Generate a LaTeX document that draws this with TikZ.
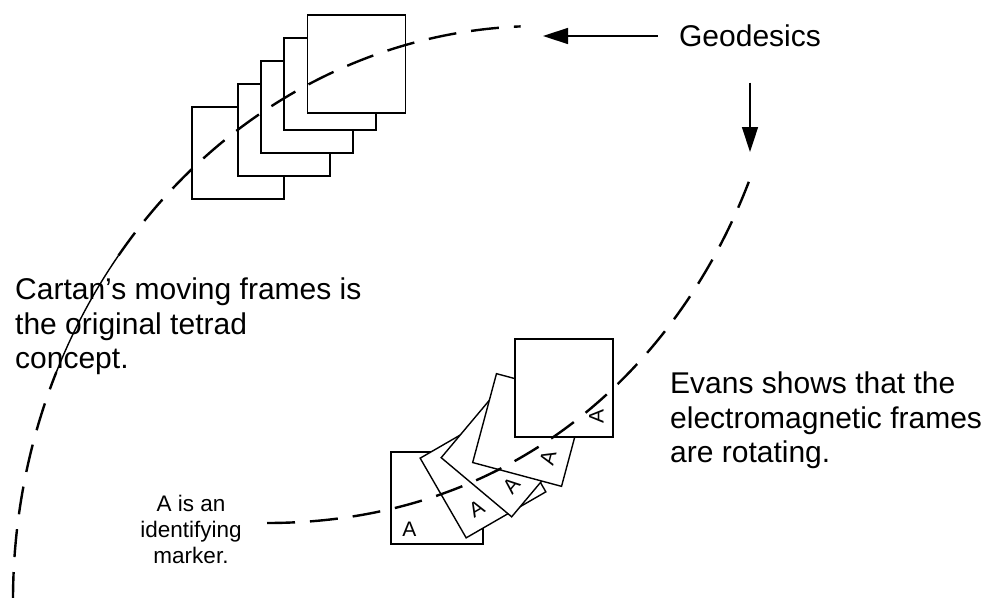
\documentclass[tikz,border=0pt]{standalone}
\usepackage{fontspec}
\setmainfont{Liberation Sans}
\usetikzlibrary{arrows.meta,calc}
\tikzset{
  tetradbox/.style={
    draw=black,
    fill=white,
    line width=1.4pt,
    minimum size=92pt,
    inner sep=0pt
  },
  geodesic/.style={line width=2.4pt, dash pattern=on 28pt off 15pt},
  geosolid/.style={line width=1.4pt},
  geoarrow/.style={-{Triangle[length=25pt, width=16pt]}, line width=1.5pt},
  bignote/.style={font=\fontsize{30}{34.5}\selectfont, align=left, inner sep=0pt},
  smallnote/.style={font=\fontsize{22.5}{26}\selectfont, align=center, inner sep=0pt},
  marktext/.style={font=\fontsize{21}{24}\selectfont, inner sep=0pt}
}

\begin{document}
\begin{tikzpicture}[x=1pt, y=-1pt]
    \useasboundingbox (0,0) rectangle (992,597);

    \foreach \cx/\cy/\sz [count=\i] in {238/153/92, 284/130/92, 307/107/92, 330/84/92, 356.5/64/98}
      \node[tetradbox, minimum size=\sz] (top\i) at (\cx,\cy) {};

    \foreach \cx/\cy/\ang/\dist/\sz [count=\i] in {437/498/0/42/92, 483/475/30/34/92, 506/452/50/34/92, 529/430/75/34/92, 564/388/90/43/98} {
      \node[tetradbox, minimum size=\sz, rotate=\ang] (rot\i) at (\cx,\cy) {};
      \node[marktext, rotate=\ang] (mark\i) at ($(rot\i.center)+({-229-\ang}:\dist)$) {A};
    }

    \draw[geodesic] (13,600) arc[start angle=180, end angle=203.4, x radius=527, y radius=574] coordinate (outerA);
    \draw[geosolid] (outerA) arc[start angle=203.4, end angle=216.9, x radius=527, y radius=574] coordinate (outerB);
    \draw[geodesic] (outerB) arc[start angle=216.9, end angle=267.9, x radius=527, y radius=574] coordinate (outerEnd);

    \draw[geodesic] (267,523) .. controls (517,523) and (681,364) .. (751,176);

    \node[bignote] (geo) at (750,36) {Geodesics};
    \coordinate (leftTip) at (543,36);
    \coordinate (downTip) at (750,152);

    \draw[geoarrow, shorten <=21pt] (geo) -- (leftTip);
    \draw[geoarrow, shorten <=35.5pt] (geo) -- (downTip);

    \node[bignote, anchor=north west] (cartan) at (15,278) {Cartan’s moving frames is\\the original tetrad\\concept.};
    \node[bignote, anchor=north west] (evans) at (670,372) {Evans shows that the\\electromagnetic frames\\are rotating.};
    \node[smallnote, anchor=north] (marker) at (191,495) {A is an\\identifying\\marker.};
  \end{tikzpicture}
\end{document}
